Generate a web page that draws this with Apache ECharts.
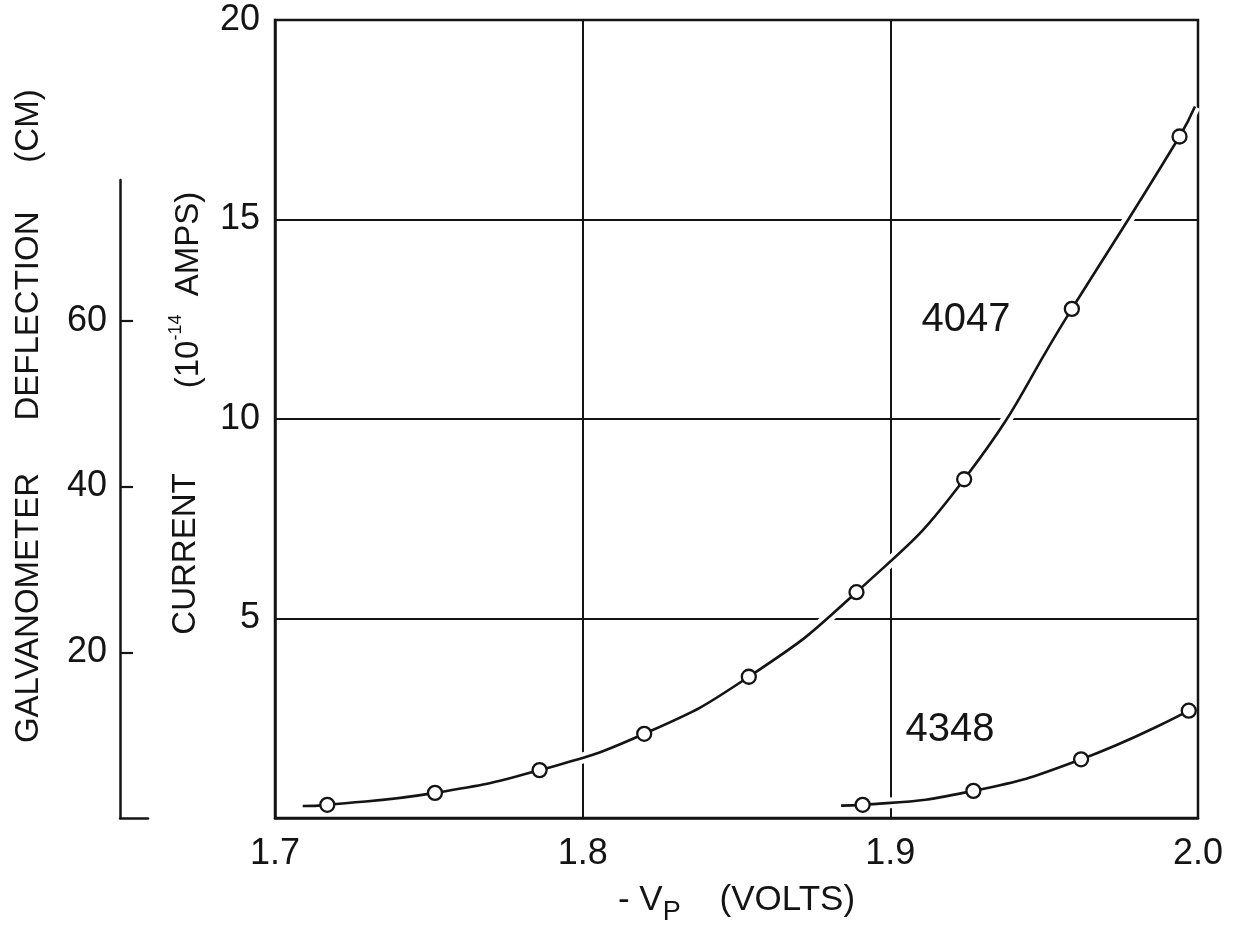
<!DOCTYPE html>
<html>
<head>
<meta charset="utf-8">
<title>Current vs -Vp</title>
<script src="https://cdn.jsdelivr.net/npm/echarts@6/dist/echarts.min.js"></script>
<style>
    html, body { margin: 0; padding: 0; background: #fff; }
    #chart { width: 1241px; height: 932px; }
</style>
</head>
<body>
<div id="chart"></div>
<script>
// measured points: -Vp (volts) against current (10^-14 amps)
const volts4047 = [1.717, 1.752, 1.786, 1.820, 1.854, 1.889, 1.924, 1.959, 1.994];
const current4047 = [0.33, 0.63, 1.20, 2.11, 3.54, 5.66, 8.49, 12.76, 17.08];
const volts4348 = [1.891, 1.927, 1.962, 1.997];
const current4348 = [0.33, 0.68, 1.47, 2.69];

// the drawn curves run a bit past the outer points
const start4047 = [1.709, 0.30];
const end4047 = [1.999, 17.83];
const start4348 = [1.884, 0.31];

const xTicks = [1.7, 1.8, 1.9, 2.0];
const galvTicks = [20, 40, 60];

const INK = '#141414';
const FONT = '"Liberation Sans", Arial, sans-serif';

function pairs(xs, ys) {
    return xs.map((x, i) => [x, ys[i]]);
}

const pts4047 = pairs(volts4047, current4047);
const pts4348 = pairs(volts4348, current4348);
const fit4047 = [start4047].concat(pts4047, [end4047]);
const fit4348 = [start4348].concat(pts4348);

function curveSeries(data) {
    // white halo underneath so grid lines break where the curve crosses
    return [
        {
            type: 'line', data: data, smooth: 0.5,
            showSymbol: false, silent: true, z: 2,
            lineStyle: { color: '#fff', width: 11 }
        },
        {
            type: 'line', data: data, smooth: 0.5,
            showSymbol: false, silent: true, z: 3,
            lineStyle: { color: INK, width: 2.6 }
        }
    ];
}

function pointSeries(data) {
    return {
        type: 'scatter', data: data, symbol: 'circle', symbolSize: 14, z: 4,
        itemStyle: { color: '#fff', borderColor: INK, borderWidth: 2.3, opacity: 1 }
    };
}

function vtext(str, x, y) {
    return {
        type: 'text', x: x, y: y, rotation: Math.PI / 2,
        style: {
            text: str, font: '33px ' + FONT, fill: INK,
            align: 'center', verticalAlign: 'middle'
        }
    };
}

const chart = echarts.init(document.getElementById('chart'));

chart.setOption({
    backgroundColor: '#fff',
    animation: false,
    grid: [
        { left: 275, right: 43, top: 20, bottom: 114, show: true, borderColor: INK, borderWidth: 2.5 },
        { left: 120, width: 28, top: 180, bottom: 114 }
    ],
    xAxis: [
        {
            gridIndex: 0, type: 'value', min: 1.7, max: 2.0, interval: 0.1,
            axisLine: { lineStyle: { color: INK, width: 2.5 } },
            axisTick: { show: false },
            splitLine: { lineStyle: { color: INK, width: 2 } },
            axisLabel: {
                color: INK, fontSize: 36, fontFamily: FONT, margin: 18,
                formatter: v => xTicks.some(t => Math.abs(t - v) < 1e-6) ? v.toFixed(1) : ''
            },
            name: '{a|- V}{s|P}{a|    (VOLTS)}',
            nameLocation: 'middle',
            nameGap: 54,
            nameTextStyle: {
                rich: {
                    a: { fontSize: 35, fontFamily: FONT, color: INK, lineHeight: 46, verticalAlign: 'bottom' },
                    s: { fontSize: 27, fontFamily: FONT, color: INK, lineHeight: 27, verticalAlign: 'bottom', padding: [0, 0, -8, 0] }
                }
            }
        },
        {
            gridIndex: 1, type: 'value', min: 0, max: 1,
            axisLine: { lineStyle: { color: INK, width: 2.5 } },
            axisTick: { show: false }, axisLabel: { show: false }, splitLine: { show: false }
        }
    ],
    yAxis: [
        {
            gridIndex: 0, type: 'value', min: 0, max: 20, interval: 5,
            axisLine: { show: true, lineStyle: { color: INK, width: 2.5 } },
            axisTick: { show: false },
            splitLine: { lineStyle: { color: INK, width: 2 } },
            axisLabel: {
                color: INK, fontSize: 36, fontFamily: FONT, margin: 15,
                formatter: v => v === 0 ? '' : String(v)
            }
        },
        {
            gridIndex: 1, type: 'value', min: 0, max: 77,
            axisLine: { show: true, lineStyle: { color: INK, width: 2.5 } },
            axisTick: { show: true, inside: true, length: 13, customValues: galvTicks, lineStyle: { color: INK, width: 2.2 } },
            axisLabel: { color: INK, fontSize: 36, fontFamily: FONT, margin: 13, customValues: galvTicks },
            splitLine: { show: false }
        }
    ],
    graphic: [
        vtext('GALVANOMETER', 29, 608),
        vtext('DEFLECTION', 29, 316),
        vtext('(CM)', 29, 126),
        vtext('CURRENT', 186, 554),
        {
            type: 'text', x: 186, y: 290, rotation: Math.PI / 2,
            style: {
                text: '{a|(10}{s|-14}{a|  AMPS)}',
                align: 'center', verticalAlign: 'middle',
                rich: {
                    a: { fontSize: 33, fontFamily: FONT, fill: INK, lineHeight: 38, verticalAlign: 'bottom' },
                    s: { fontSize: 18, fontFamily: FONT, fill: INK, lineHeight: 18, verticalAlign: 'top' }
                }
            }
        },
        {
            type: 'text', x: 966, y: 320,
            style: { text: '4047', font: '40px ' + FONT, fill: INK, align: 'center', verticalAlign: 'middle' }
        },
        {
            type: 'text', x: 950, y: 730,
            style: { text: '4348', font: '40px ' + FONT, fill: INK, align: 'center', verticalAlign: 'middle' }
        }
    ],
    series: [
        ...curveSeries(fit4047),
        ...curveSeries(fit4348),
        pointSeries(pts4047),
        pointSeries(pts4348)
    ]
});
</script>
</body>
</html>
